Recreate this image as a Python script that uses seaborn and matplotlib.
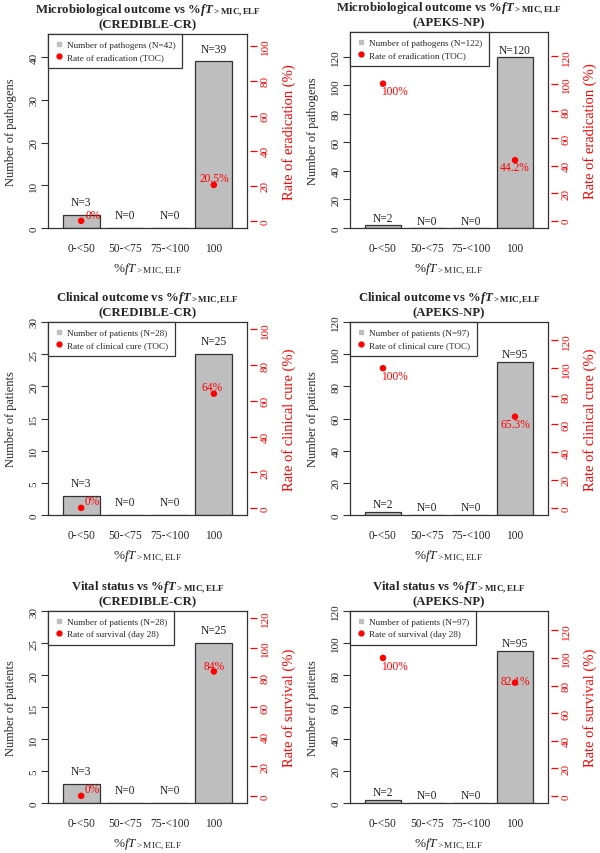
import numpy as np
import pandas as pd
import matplotlib
matplotlib.use("Agg")
import matplotlib.pyplot as plt
import seaborn as sns
from matplotlib.lines import Line2D

sns.set_style("white")
plt.rcParams["font.family"] = ["Liberation Serif", "DejaVu Serif"]
plt.rcParams["mathtext.fontset"] = "custom"
plt.rcParams["mathtext.rm"] = "Liberation Serif"
plt.rcParams["mathtext.it"] = "Liberation Serif:italic"
plt.rcParams["mathtext.bf"] = "Liberation Serif:bold"
plt.rcParams["mathtext.bfit"] = "Liberation Serif:bold:italic"

# ---------------- data ----------------
categories = ["0-<50", "50-<75", "75-<100", "100"]

micro_credible_n = [3, 0, 0, 39]
micro_credible_rate = [0, np.nan, np.nan, 20.5]
micro_apeks_n = [2, 0, 0, 120]
micro_apeks_rate = [100, np.nan, np.nan, 44.2]

clin_credible_n = [3, 0, 0, 25]
clin_credible_rate = [0, np.nan, np.nan, 64]
clin_apeks_n = [2, 0, 0, 95]
clin_apeks_rate = [100, np.nan, np.nan, 65.3]

vital_credible_n = [3, 0, 0, 25]
vital_credible_rate = [0, np.nan, np.nan, 84]
vital_apeks_n = [2, 0, 0, 95]
vital_apeks_rate = [100, np.nan, np.nan, 82.1]

title_main = ["Microbiological outcome vs", "Clinical outcome vs", "Vital status vs"]
studies = ["CREDIBLE-CR", "APEKS-NP"]
ylabels_left = ["Number of pathogens", "Number of patients", "Number of patients"]
ylabels_right = ["Rate of eradication (%)", "Rate of clinical cure (%)", "Rate of survival (%)"]
legend_count = [["Number of pathogens (N=42)", "Number of pathogens (N=122)"],
                ["Number of patients (N=28)", "Number of patients (N=97)"],
                ["Number of patients (N=28)", "Number of patients (N=97)"]]
legend_rate = ["Rate of eradication (TOC)", "Rate of clinical cure (TOC)", "Rate of survival (day 28)"]

counts = [[micro_credible_n, micro_apeks_n],
          [clin_credible_n, clin_apeks_n],
          [vital_credible_n, vital_apeks_n]]
rates = [[micro_credible_rate, micro_apeks_rate],
         [clin_credible_rate, clin_apeks_rate],
         [vital_credible_rate, vital_apeks_rate]]

# ---------------- styles / layout ----------------
W, H = 600, 854
boxes = [[(48, 247, 35, 229), (350, 548, 33, 229)],
         [(48, 247, 323, 516), (350, 548, 323, 516)],
         [(48, 247, 612, 804), (350, 548, 612, 804)]]
left_lim = [[(0, 45.4), (0, 137.3)], [(0, 30), (0, 120)], [(0, 30), (0, 120)]]
left_ticks = [[np.arange(0, 41, 10), np.arange(0, 121, 20)],
              [np.arange(0, 31, 5), np.arange(0, 121, 20)],
              [np.arange(0, 31, 5), np.arange(0, 121, 20)]]
right_lim = [[(-4.1, 106.7), (-5.3, 137.7)], [(-4.0, 104.2), (-5.1, 133.1)], [(-4.8, 124.8), (-5.1, 134.0)]]
right_ticks = [[np.arange(0, 101, 20), np.arange(0, 121, 20)],
               [np.arange(0, 101, 20), np.arange(0, 121, 20)],
               [np.arange(0, 121, 20), np.arange(0, 121, 20)]]
nlabel_off = [[3, 4.8], [2, 4.8], [2, 4.8]]
# pixel offsets of rate labels (dx, dy) for first and last category
rate_off = [[[(12, 6), (0, 7)], [(11, -7), (0, -7)]],
            [[(11, 7), (-2, 7)], [(11, -8), (0, -7)]],
            [[(11, 7), (0, 5)], [(11, -8), (0, 2)]]]

GRAY = "#BEBEBE"
RED = "#FF0000"

fig = plt.figure(figsize=(W / 100, H / 100), dpi=100)

for r in range(3):
    for c in range(2):
        l, rr, t, b = boxes[r][c]
        ax = fig.add_axes([l / W, 1 - b / H, (rr - l) / W, (b - t) / H])
        df = pd.DataFrame({"cat": categories, "n": counts[r][c], "rate": rates[r][c],
                           "pos": np.arange(len(categories))})
        sns.barplot(data=df, x="cat", y="n", order=categories, color=GRAY,
                    saturation=1, width=1 / 1.2, edgecolor="#333333", linewidth=0.9, ax=ax)
        ax.set_xlim(-0.75, 3.75)
        ax.set_ylim(*left_lim[r][c])
        ax.set_yticks(left_ticks[r][c])
        ax.tick_params(axis="y", direction="out", length=5, width=0.8, color="#333333",
                       labelsize=8, pad=2, left=True)
        for lab in ax.get_yticklabels():
            lab.set_rotation(90)
            lab.set_va("center")
        ax.tick_params(axis="x", length=0, labelsize=8.3, pad=10)
        for s in ax.spines.values():
            s.set_visible(True)
            s.set_color("#333333")
            s.set_linewidth(0.9)
        ax.set_ylabel(ylabels_left[r], fontsize=8.9, labelpad=9)
        ax.set_xlabel(r"%$\mathit{fT}_{\mathrm{>MIC,ELF}}$", fontsize=9.5, labelpad=5)
        ax.set_title(title_main[r] + r" %$\mathbfit{fT}_{\mathbf{>MIC,ELF}}$" + "\n(" + studies[c] + ")",
                     fontsize=9.2, fontweight="bold", pad=5, linespacing=1.0)
        # N labels
        for i, n in enumerate(df["n"]):
            ax.text(i, n + nlabel_off[r][c], f"N={n}", ha="center", va="center", fontsize=8.3,
                    color="#222222")

        ax2 = ax.twinx()
        pts = df.dropna(subset=["rate"])
        sns.scatterplot(data=pts, x="pos", y="rate", color=RED, s=22, edgecolor="none",
                        ax=ax2, legend=False, zorder=5)
        ax2.set_xlim(-0.75, 3.75)
        ax2.set_ylim(*right_lim[r][c])
        ax2.set_yticks(right_ticks[r][c])
        ax2.spines["right"].set_position(("outward", 2))
        for s in ax2.spines.values():
            s.set_visible(False)
        ax2.tick_params(axis="y", direction="out", length=5, width=0.9, colors=RED,
                        labelsize=8, pad=3, right=True)
        for lab in ax2.get_yticklabels():
            lab.set_rotation(90)
            lab.set_va("center")
        ax2.set_ylabel(ylabels_right[r], fontsize=10.5, color=RED, labelpad=9)
        ax2.set_xlabel("")
        for k, (_, row) in enumerate(pts.iterrows()):
            dx, dy = rate_off[r][c][0 if k == 0 else 1]
            ax2.annotate(f"{row['rate']:g}%", (row["pos"], row["rate"]), xytext=(dx, dy),
                         textcoords="offset pixels", ha="center", va="center",
                         fontsize=8.3, color=RED)

        handles = [Line2D([], [], ls="none", marker="s", color=GRAY, markersize=3.5),
                   Line2D([], [], ls="none", marker="o", color=RED, markersize=3.5)]
        leg = ax2.legend(handles, [legend_count[r][c], legend_rate[r]], loc="upper left",
                         borderaxespad=0, fancybox=False, framealpha=1, edgecolor="#333333",
                         fontsize=6.6, handlelength=1.0, handletextpad=0.4, borderpad=0.7,
                         labelspacing=0.45)
        leg.get_frame().set_linewidth(0.9)

fig.savefig("out.png", dpi=100)
